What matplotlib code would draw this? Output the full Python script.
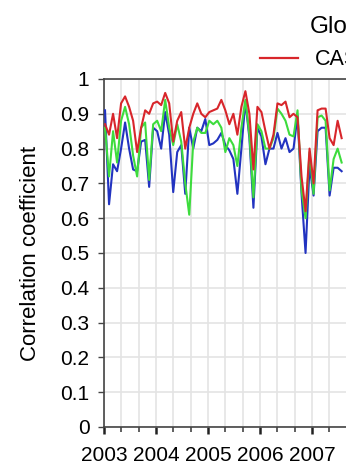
import numpy as np
import matplotlib
matplotlib.use("Agg")
import matplotlib.pyplot as plt
from matplotlib.ticker import MultipleLocator

plt.rcParams['font.family'] = ['Liberation Sans', 'DejaVu Sans']

# ---- data ----
red = [0.87, 0.84, 0.90, 0.83, 0.93, 0.95, 0.92, 0.88, 0.79, 0.86,
       0.91, 0.90, 0.93, 0.935, 0.925, 0.96, 0.93, 0.82, 0.88, 0.905,
       0.80, 0.86, 0.90, 0.93, 0.90, 0.89, 0.905, 0.91, 0.915, 0.94,
       0.91, 0.87, 0.90, 0.84, 0.92, 0.965, 0.90, 0.74, 0.92, 0.905,
       0.85, 0.80, 0.84, 0.93, 0.925, 0.935, 0.89, 0.90, 0.89, 0.72,
       0.62, 0.80, 0.70, 0.91, 0.915, 0.915, 0.83, 0.81, 0.88, 0.83]
green = [0.86, 0.72, 0.85, 0.76, 0.88, 0.92, 0.87, 0.78, 0.72, 0.86,
         0.875, 0.71, 0.87, 0.88, 0.85, 0.94, 0.86, 0.81, 0.87, 0.82,
         0.70, 0.61, 0.82, 0.86, 0.845, 0.845, 0.88, 0.87, 0.88, 0.86,
         0.79, 0.83, 0.81, 0.75, 0.86, 0.94, 0.84, 0.66, 0.87, 0.85,
         0.80, 0.80, 0.83, 0.915, 0.90, 0.88, 0.84, 0.835, 0.91, 0.68,
         0.60, 0.79, 0.67, 0.89, 0.895, 0.88, 0.68, 0.77, 0.80, 0.76]
blue = [0.91, 0.64, 0.755, 0.735, 0.80, 0.875, 0.80, 0.74, 0.735, 0.82,
        0.825, 0.69, 0.86, 0.85, 0.80, 0.905, 0.84, 0.675, 0.79, 0.81,
        0.67, 0.86, 0.80, 0.86, 0.85, 0.885, 0.81, 0.815, 0.825, 0.845,
        0.81, 0.795, 0.77, 0.67, 0.80, 0.935, 0.83, 0.63, 0.86, 0.835,
        0.755, 0.80, 0.80, 0.845, 0.80, 0.83, 0.79, 0.80, 0.895, 0.67,
        0.50, 0.75, 0.665, 0.85, 0.86, 0.86, 0.665, 0.745, 0.745, 0.735]
t_start, t_end = 2003.02, 2007.57
years = np.linspace(t_start, t_end, len(red))

labels = ["CASA", "GLO-PEM", "MODIS"]
title = "Global"
ylabel = "Correlation coefficient"
year_ticks = [2003, 2004, 2005, 2006, 2007]
y_ticks = [0, 0.1, 0.2, 0.3, 0.4, 0.5, 0.6, 0.7, 0.8, 0.9, 1.0]
y_ticklabels = ["0", "0.1", "0.2", "0.3", "0.4", "0.5", "0.6", "0.7", "0.8", "0.9", "1"]

# ---- figure ----
W, H = 346, 466
fig = plt.figure(figsize=(W / 100, H / 100), dpi=100)
ax_left, ax_bottom, ax_top = 104, 427, 79
px_per_year = 52
xmax = 2010
ax = fig.add_axes([ax_left / W, 1 - ax_bottom / H,
                   (xmax - 2003) * px_per_year / W, (ax_bottom - ax_top) / H])

c_red, c_green, c_blue = "#d8262b", "#3ddc3d", "#2233c0"
l3, = ax.plot(years, blue, color=c_blue, lw=1.5, zorder=3)
l2, = ax.plot(years, green, color=c_green, lw=1.5, zorder=4)
l1, = ax.plot(years, red, color=c_red, lw=1.5, zorder=5)

ax.set_xlim(2003, xmax)
ax.set_ylim(0, 1)
ax.set_xticks(year_ticks)
ax.set_xticklabels([str(y) for y in year_ticks])
ax.xaxis.set_minor_locator(MultipleLocator(1 / 3))
ax.set_yticks(y_ticks)
ax.set_yticklabels(y_ticklabels)

ax.grid(True, which='minor', axis='x', color='#e4e4e4', lw=1.2, zorder=0)
ax.grid(True, which='major', axis='x', color='#e4e4e4', lw=1.2, zorder=0)
ax.grid(True, which='major', axis='y', color='#e4e4e4', lw=1.2, zorder=0)
ax.set_axisbelow(True)

for s in ['left', 'bottom', 'top', 'right']:
    ax.spines[s].set_color('#444444')
    ax.spines[s].set_linewidth(1.2)

ax.tick_params(axis='y', which='major', direction='out', length=4.5, width=1.0,
               color='#444444', pad=6, labelsize=15)
ax.tick_params(axis='x', which='major', direction='out', length=5, width=1.8,
               color='#222222', pad=9, labelsize=15)
ax.tick_params(axis='x', which='minor', direction='out', length=3.5, width=1.2,
               color='#444444')

ax.set_ylabel(ylabel, fontsize=16, labelpad=14)

fig.text(310 / W, 1 - 27 / H, title, fontsize=17.5, ha='left', va='center')

leg = ax.legend([l1, l2, l3], labels, ncol=3, frameon=False,
                loc='center left', bbox_to_anchor=(260 / W, 1 - 60 / H),
                bbox_transform=fig.transFigure, fontsize=15.5, borderpad=0,
                borderaxespad=0, handlelength=1.75, handletextpad=0.8,
                columnspacing=1.5)
for h in leg.get_lines():
    h.set_linewidth(1.6)

fig.savefig("out.png", dpi=100)
